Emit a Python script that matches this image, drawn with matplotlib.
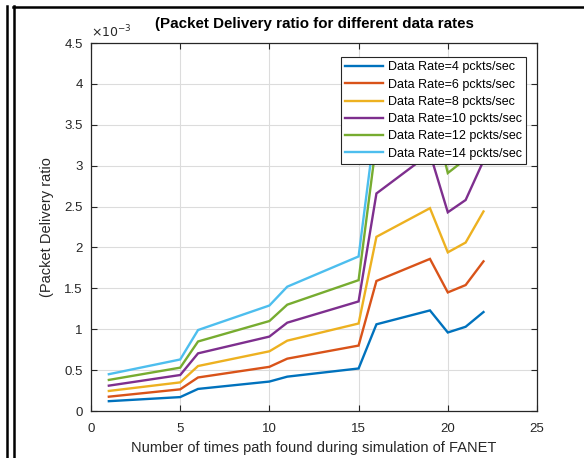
import matplotlib
matplotlib.use("Agg")
import matplotlib.pyplot as plt
from matplotlib.ticker import FuncFormatter, MultipleLocator
from matplotlib.lines import Line2D

plt.rcParams['font.family'] = ['Liberation Sans', 'DejaVu Sans']

# Number of times a path was found during the FANET simulation
paths_found = [1, 5, 6, 10, 11, 15, 16, 19, 20, 21, 22]

# Packet delivery ratio (in units of 1e-3) for each data rate
pdr_rate4 = [0.12, 0.17, 0.27, 0.36, 0.42, 0.52, 1.06, 1.23, 0.96, 1.03, 1.21]
pdr_rate6 = [0.175, 0.265, 0.41, 0.54, 0.64, 0.80, 1.59, 1.86, 1.45, 1.54, 1.83]
pdr_rate8 = [0.245, 0.35, 0.55, 0.73, 0.86, 1.07, 2.13, 2.48, 1.94, 2.06, 2.44]
pdr_rate10 = [0.31, 0.44, 0.705, 0.91, 1.08, 1.34, 2.66, 3.15, 2.43, 2.58, 3.06]
pdr_rate12 = [0.38, 0.53, 0.85, 1.10, 1.30, 1.60, 3.30, 3.80, 2.91, 3.08, 3.60]
pdr_rate14 = [0.45, 0.63, 0.99, 1.29, 1.52, 1.89, 3.60, 4.20, 3.30, 3.50, 4.10]

series = [pdr_rate4, pdr_rate6, pdr_rate8, pdr_rate10, pdr_rate12, pdr_rate14]
labels = ["Data Rate=4 pckts/sec", "Data Rate=6 pckts/sec", "Data Rate=8 pckts/sec",
          "Data Rate=10 pckts/sec", "Data Rate=12 pckts/sec", "Data Rate=14 pckts/sec"]
colors = ["#0072BD", "#D95319", "#EDB120", "#7E2F8E", "#77AC30", "#4DBEEE"]

W, H = 584, 458
fig = plt.figure(figsize=(W / 100, H / 100), dpi=100)
fig.patch.set_facecolor("white")

ax = fig.add_axes([91 / W, 1 - 411 / H, (537 - 91) / W, (411 - 43) / H])

for vals, lab, col in zip(series, labels, colors):
    ax.plot(paths_found, vals, color=col, lw=1.7, label=lab, solid_joinstyle="miter")

ax.set_xlim(0, 25)
ax.set_ylim(0, 4.5)
ax.xaxis.set_major_locator(MultipleLocator(5))
ax.yaxis.set_major_locator(MultipleLocator(0.5))
ax.yaxis.set_major_formatter(FuncFormatter(lambda v, p: f"{v:g}"))
ax.xaxis.set_major_formatter(FuncFormatter(lambda v, p: f"{v:g}"))

ax.grid(True, color="#dcdcdc", lw=0.8)
ax.set_axisbelow(True)
ax.tick_params(direction="in", length=4, top=True, right=True, labelsize=9.5,
               colors="#262626", width=0.8)
ax.tick_params(axis="x", pad=9)
ax.tick_params(axis="y", pad=6)
for s in ax.spines.values():
    s.set_color("#262626")
    s.set_linewidth(0.9)

ax.set_xlabel("Number of times path found during simulation of FANET", fontsize=10.5,
              color="#262626", labelpad=4)
ax.set_ylabel("(Packet Delivery ratio", fontsize=10.5, color="#262626", labelpad=7)
ax.set_title("(Packet Delivery ratio for different data rates", fontsize=10.9,
             fontweight="bold", color="black", pad=11)
ax.text(0.0, 1.006, r"$\times10^{-3}$", transform=ax.transAxes, fontsize=9,
        color="#262626", ha="left", va="bottom")

leg = ax.legend(loc="upper right", bbox_to_anchor=(526 / W, 1 - 57 / H),
                bbox_transform=fig.transFigure, fontsize=9, frameon=True,
                fancybox=False, edgecolor="#262626", framealpha=1,
                handlelength=3.0, handletextpad=0.4, labelspacing=0.42,
                borderpad=0.35, borderaxespad=0)
leg.get_frame().set_linewidth(0.8)

# Surrounding frame lines
def vline(x, y0, y1, lw):
    fig.add_artist(Line2D([x / W, x / W], [1 - y0 / H, 1 - y1 / H], color="black",
                          lw=lw, transform=fig.transFigure))

vline(7, 6, H, 1.8)
vline(14, 6, H, 1.8)
fig.add_artist(Line2D([13 / W, 1], [1 - 7 / H, 1 - 7 / H], color="black", lw=1.8,
                      transform=fig.transFigure))

fig.savefig("out.png", dpi=100, facecolor="white")
